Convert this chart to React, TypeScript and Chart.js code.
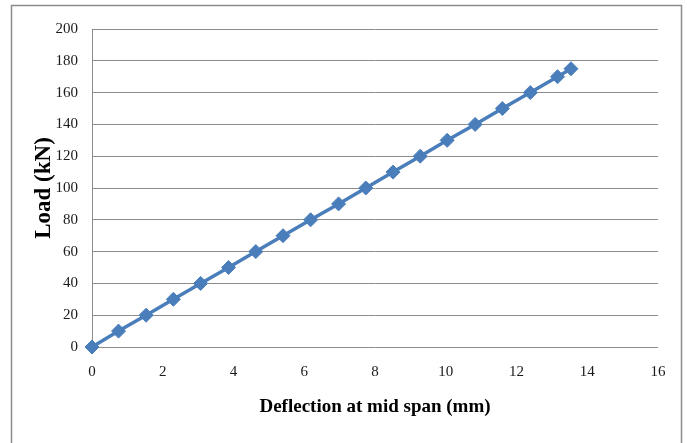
import React, { useEffect, useRef } from "react";
import { Chart, registerables } from "chart.js";

Chart.register(...registerables);

const deflection = [0, 0.75, 1.53, 2.3, 3.07, 3.86, 4.63, 5.4, 6.18, 6.97, 7.74, 8.51, 9.28, 10.04, 10.83, 11.6, 12.39, 13.16, 13.54];
const load = [0, 10, 20, 30, 40, 50, 60, 70, 80, 90, 100, 110, 120, 130, 140, 150, 160, 170, 175];
const xTitle = "Deflection at mid span (mm)";
const yTitle = "Load (kN)";

const framePlugin = {
  id: "frame",
  beforeDraw(chart: any) {
    const ctx = chart.ctx;
    ctx.save();
    ctx.fillStyle = "#ffffff";
    ctx.fillRect(0, 0, chart.width, chart.height);
    ctx.strokeStyle = "#8c8c8c";
    ctx.lineWidth = 1.5;
    ctx.strokeRect(11.5, 5.5, 670, 460);
    ctx.restore();
  },
};

export default function App() {
  const ref = useRef<HTMLCanvasElement>(null);
  useEffect(() => {
    document.body.style.margin = "0";
    const data = deflection.map((x, i) => ({ x, y: load[i] }));
    const chart = new Chart(ref.current!, {
      type: "scatter",
      data: {
        datasets: [
          {
            data,
            showLine: true,
            clip: false,
            borderColor: "#4a7ebb",
            backgroundColor: "#4a7ebb",
            borderWidth: 3.5,
            pointStyle: "rectRot",
            pointRadius: 7,
            pointBorderWidth: 1,
            tension: 0,
          },
        ],
      },
      plugins: [framePlugin],
      options: {
        animation: false,
        responsive: false,
        maintainAspectRatio: false,
        layout: { padding: { left: 0, right: 29, top: 29, bottom: 0 } },
        plugins: { legend: { display: false }, tooltip: { enabled: false } },
        scales: {
          x: {
            type: "linear",
            min: 0,
            max: 16,
            ticks: {
              stepSize: 2,
              padding: 16,
              color: "#1a1a1a",
              font: { family: "Liberation Serif", size: 15 },
            },
            grid: { display: false, drawTicks: false },
            border: { display: false },
            title: {
              display: true,
              text: xTitle,
              color: "#000",
              font: { family: "Liberation Serif", size: 19, weight: "bold" },
              padding: { top: 0, bottom: 25 },
            },
            afterFit(scale: any) {
              scale.height = 96;
            },
          },
          y: {
            min: 0,
            max: 200,
            ticks: {
              stepSize: 20,
              padding: 14,
              color: "#1a1a1a",
              font: { family: "Liberation Serif", size: 15 },
            },
            grid: { color: "#8c8c8c", lineWidth: 1, drawTicks: false },
            border: { display: true, color: "#8c8c8c", width: 1 },
            title: {
              display: true,
              text: yTitle,
              color: "#000",
              font: { family: "Liberation Serif", size: 23, weight: "bold" },
              padding: { top: 30, bottom: 0 },
            },
            afterFit(scale: any) {
              scale.width = 92;
            },
          },
        },
      },
    });
    return () => chart.destroy();
  }, []);
  return (
    <div style={{ width: 687, height: 443 }}>
      <canvas ref={ref} width={687} height={443} style={{ display: "block" }} />
    </div>
  );
}
